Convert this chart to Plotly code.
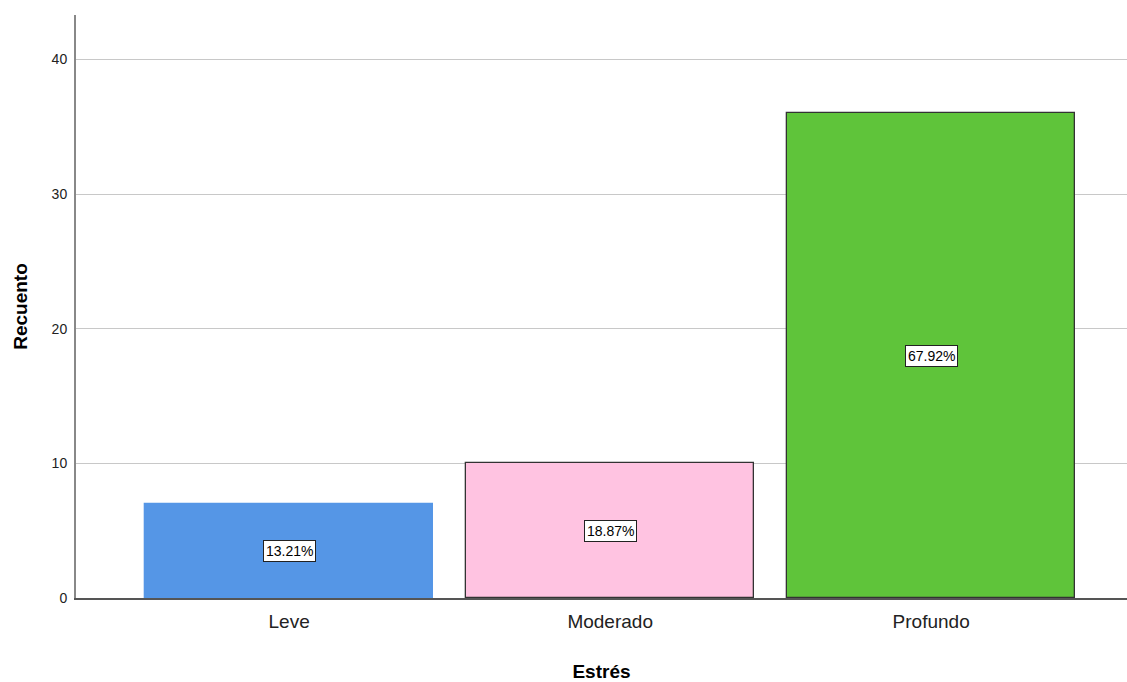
import plotly.graph_objects as go

categories = ["Leve", "Moderado", "Profundo"]
counts = [7, 10, 36]
pct_labels = ["13.21%", "18.87%", "67.92%"]
colors = ["#5596E6", "#FFC3E1", "#5FC43A"]
line_colors = ["#5596E6", "#333333", "#333333"]

xi = list(range(len(categories)))

fig = go.Figure()
fig.add_trace(go.Bar(
    x=xi, y=counts, width=0.897,
    marker=dict(color=colors, line=dict(color=line_colors, width=1.3)),
    hoverinfo="skip",
))

for i, (v, lab) in enumerate(zip(counts, pct_labels)):
    fig.add_annotation(
        x=i, y=v / 2, text=lab, showarrow=False,
        font=dict(family="Liberation Sans, Arial", size=14, color="black"),
        bgcolor="white", bordercolor="#222222", borderwidth=1, borderpad=2,
    )

fig.update_layout(
    width=1127, height=682,
    margin=dict(l=76, r=0, t=15, b=84),
    paper_bgcolor="white", plot_bgcolor="white",
    showlegend=False,
    font=dict(family="Liberation Sans, Arial", color="black"),
    bargap=0,
)
fig.update_xaxes(
    range=[-0.664, 2.61],
    tickmode="array", tickvals=xi, ticktext=categories,
    tickfont=dict(size=19, color="#222222"),
    showline=True, linecolor="#555555", linewidth=1.5,
    showgrid=False, zeroline=False,
    ticks="outside", ticklen=5, tickcolor="rgba(0,0,0,0)",
    title=dict(text="<b>Estrés</b>", font=dict(size=19), standoff=34),
)
fig.update_yaxes(
    range=[0, 43.3],
    tickvals=[0, 10, 20, 30, 40],
    tickfont=dict(size=14, color="#222222"),
    showline=True, linecolor="#888888", linewidth=2,
    showgrid=True, gridcolor="#C8C8C8", gridwidth=1.2,
    zeroline=False,
    ticks="outside", ticklen=4, tickcolor="rgba(0,0,0,0)",
    title=dict(text="<b>Recuento</b>", font=dict(size=19), standoff=19),
)

fig.write_html(
    "out.html",
    config={"displayModeBar": False},
    post_script="document.body.style.margin='0';document.body.style.overflow='hidden';",
)
